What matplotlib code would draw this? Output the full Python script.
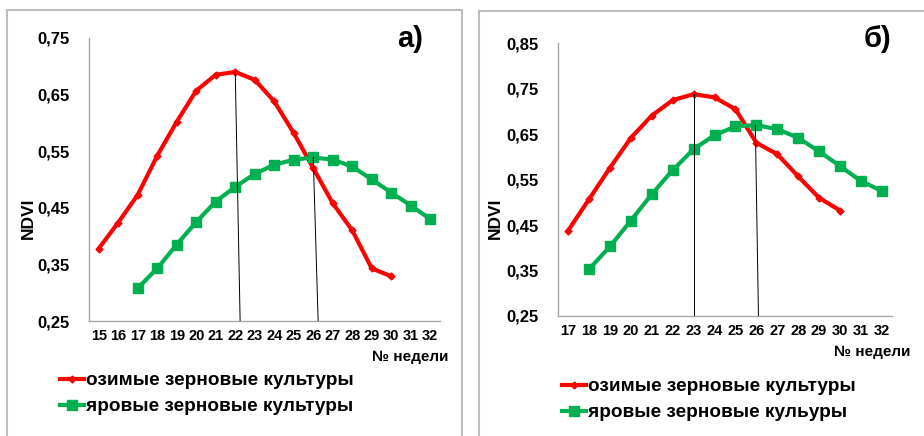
import matplotlib
matplotlib.use("Agg")
from matplotlib import pyplot as plt
from matplotlib.patches import Rectangle
import numpy as np

plt.rcParams['font.family'] = ['Liberation Sans', 'DejaVu Sans']
plt.rcParams['font.weight'] = 'bold'

# панель а)
weeks_a_red = [15, 16, 17, 18, 19, 20, 21, 22, 23, 24, 25, 26, 27, 28, 29, 30]
ndvi_a_red = [0.378, 0.424, 0.473, 0.542, 0.602, 0.657, 0.685, 0.690, 0.676,
              0.638, 0.582, 0.520, 0.458, 0.410, 0.343, 0.329]
weeks_a_green = [17, 18, 19, 20, 21, 22, 23, 24, 25, 26, 27, 28, 29, 30, 31, 32]
ndvi_a_green = [0.308, 0.343, 0.385, 0.425, 0.461, 0.487, 0.510, 0.526, 0.535,
                0.539, 0.535, 0.523, 0.500, 0.477, 0.454, 0.430]
guides_a = [((22, 0.690), (22.25, 0.25)), ((26, 0.539), (26.25, 0.25))]

# панель б)
weeks_b_red = [17, 18, 19, 20, 21, 22, 23, 24, 25, 26, 27, 28, 29, 30]
ndvi_b_red = [0.438, 0.507, 0.576, 0.642, 0.691, 0.725, 0.738, 0.731, 0.705,
              0.631, 0.606, 0.557, 0.510, 0.482]
weeks_b_green = [18, 19, 20, 21, 22, 23, 24, 25, 26, 27, 28, 29, 30, 31, 32]
ndvi_b_green = [0.353, 0.403, 0.460, 0.518, 0.571, 0.617, 0.648, 0.667, 0.670,
                0.661, 0.642, 0.612, 0.580, 0.547, 0.525]
guides_b = [((23, 0.738), (23, 0.25)), ((25.95, 0.670), (26.1, 0.25))]

W, H = 924, 436
fig = plt.figure(figsize=(W / 100, H / 100), dpi=100)


def px(x0, y0, x1, y1):
    return [x0 / W, 1 - y1 / H, (x1 - x0) / W, (y1 - y0) / H]


# рамки панелей
fig.patches.append(Rectangle((7 / W, -0.01), (462 - 7) / W, 1 - 10 / H + 0.01,
                             transform=fig.transFigure, fill=False,
                             edgecolor='#bdbdbd', lw=1.5))
fig.patches.append(Rectangle((479 / W, -0.01), 0.5, 1 - 11.5 / H + 0.01,
                             transform=fig.transFigure, fill=False,
                             edgecolor='#bdbdbd', lw=1.5))


def panel(rect, wr, vr, wg, vg, guides, ylim, xlim, label, leg_xy,
          ndvi_x, leg_labels):
    ax = fig.add_axes(rect)
    ax.plot(wr, vr, color='#ff0000', lw=3, marker='D', ms=3.5,
            label=leg_labels[0], zorder=3)
    ax.plot(wg, vg, color='#00b050', lw=3, marker='s', ms=7,
            label=leg_labels[1], zorder=3)
    for (x0, y0), (x1, y1) in guides:
        ax.plot([x0, x1], [y0, y1], color='black', lw=0.7, zorder=4)
    ax.set_xlim(*xlim)
    ax.set_ylim(*ylim)
    weeks = np.arange(xlim[0] + 0.5, xlim[1])
    ax.set_xticks(weeks)
    ax.set_xticklabels([str(int(w)) for w in weeks], fontsize=10.5,
                       fontweight='bold')
    yt = np.arange(ylim[0], ylim[1] + 0.001, 0.1)
    ax.set_yticks(yt)
    ax.set_yticklabels([f"{v:.2f}".replace('.', ',') for v in yt],
                       fontsize=12, fontweight='bold')
    ax.tick_params(length=0, pad=6)
    ax.tick_params(axis='y', pad=14)
    for s in ['top', 'right']:
        ax.spines[s].set_visible(False)
    for s in ['left', 'bottom']:
        ax.spines[s].set_color('#a6a6a6')
        ax.spines[s].set_linewidth(1)
    ax.set_ylabel('NDVI', fontsize=12.5, fontweight='bold')
    ax.yaxis.set_label_coords(ndvi_x, 0.5, transform=fig.transFigure)
    ax.legend(loc='upper left', bbox_to_anchor=(leg_xy[0] / W, 1 - leg_xy[1] / H),
              bbox_transform=fig.transFigure, frameon=False,
              handlelength=1.25, handletextpad=0.1, labelspacing=0.45,
              borderpad=0, borderaxespad=0, prop={'size': 13.7, 'weight': 'bold'})
    fig.text(label[1] / W, 1 - label[2] / H, label[0], fontsize=21,
             fontweight='bold', ha='left', va='center')
    return ax


panel(px(89, 38, 440, 321), weeks_a_red, ndvi_a_red, weeks_a_green,
      ndvi_a_green, guides_a, (0.25, 0.75), (14.5, 32.5), ('а)', 397, 39),
      (60, 372), 36 / W,
      ['озимые зерновые культуры', 'яровые зерновые культуры'])
fig.text(448 / W, 1 - 357 / H, '№ недели', fontsize=11, fontweight='bold',
         ha='right', va='center')

panel(px(557.7, 43.3, 892.3, 316), weeks_b_red, ndvi_b_red, weeks_b_green,
      ndvi_b_green, guides_b, (0.25, 0.85), (16.5, 32.5), ('б)', 864, 39),
      (562, 378), 503 / W,
      ['озимые зерновые культуры', 'яровые зерновые кульуры'])
fig.text(910 / W, 1 - 352 / H, '№ недели', fontsize=11, fontweight='bold',
         ha='right', va='center')

fig.savefig('out.png', dpi=100)
